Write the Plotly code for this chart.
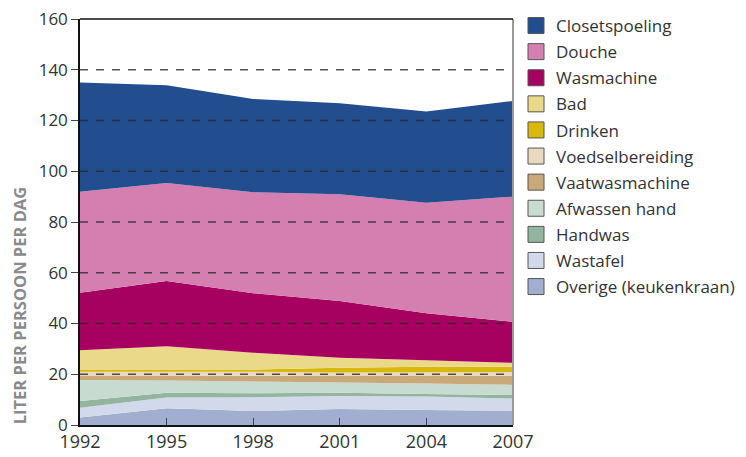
import plotly.graph_objects as go

years = [1992, 1995, 1998, 2001, 2004, 2007]

# values per category (liter per person per day), bottom to top of stack
overige = [3.0, 6.6, 5.5, 6.3, 5.9, 5.6]
wastafel = [3.8, 4.2, 5.4, 5.1, 5.3, 4.8]
handwas = [2.7, 1.9, 1.6, 1.3, 1.0, 1.4]
afwassen_hand = [8.2, 4.8, 4.6, 4.0, 4.2, 4.0]
vaatwasmachine = [1.6, 1.8, 2.3, 2.8, 3.1, 3.6]
voedselbereiding = [1.7, 1.7, 1.6, 1.2, 1.3, 1.5]
drinken = [0.9, 0.9, 0.9, 1.9, 2.2, 2.1]
bad = [7.6, 9.1, 6.6, 3.9, 2.5, 1.5]
wasmachine = [22.6, 25.7, 23.4, 22.4, 18.5, 16.2]
douche = [39.8, 38.7, 39.8, 42.0, 43.6, 49.3]
closetspoeling = [43.1, 38.5, 36.8, 35.9, 35.9, 37.7]

names = ["Overige (keukenkraan)", "Wastafel", "Handwas", "Afwassen hand",
         "Vaatwasmachine", "Voedselbereiding", "Drinken", "Bad",
         "Wasmachine", "Douche", "Closetspoeling"]
series = [overige, wastafel, handwas, afwassen_hand, vaatwasmachine,
          voedselbereiding, drinken, bad, wasmachine, douche, closetspoeling]
colors = ["#A1AED0", "#D2D9EA", "#93B5A0", "#C8DBD0", "#C9A97A",
          "#EAD9BF", "#D9B80E", "#EBD98A", "#A60061", "#D47FB0", "#224D8F"]

y_ticks = [0, 20, 40, 60, 80, 100, 120, 140, 160]
grid_vals = [20, 40, 60, 80, 100, 120, 140]

# the page body adds an 8px margin, so the figure is sized to fit the window
W, H = 738, 449

fig = go.Figure()
for n, s, c in zip(names, series, colors):
    fig.add_trace(go.Scatter(x=years, y=s, stackgroup="one", mode="none",
                             fillcolor=c, line=dict(width=0), name=n,
                             showlegend=False, hoverinfo="skip"))

# legend entries (top to bottom)
for n, c in zip(names[::-1], colors[::-1]):
    fig.add_trace(go.Scatter(x=[None], y=[None], mode="markers", name=n,
                             legendgroup=n,
                             marker=dict(symbol="square", size=16, color=c,
                                         line=dict(color="#555555", width=1))))

shapes = []
for g in grid_vals:
    shapes.append(dict(type="line", xref="paper", yref="y", x0=0, x1=1, y0=g, y1=g,
                       line=dict(color="rgba(40,40,40,0.8)", width=1.5, dash="8px,8px"),
                       layer="above"))
shapes.append(dict(type="line", xref="paper", yref="paper", x0=1, x1=1, y0=0, y1=1,
                   line=dict(color="#999999", width=2), layer="above"))
shapes.append(dict(type="line", xref="paper", yref="paper", x0=0, x1=1, y0=1, y1=1,
                   line=dict(color="#111111", width=1.5), layer="above"))

fig.update_layout(
    width=W, height=H,
    margin=dict(l=72, r=233, t=11, b=32, autoexpand=False),
    paper_bgcolor="white", plot_bgcolor="white",
    font=dict(family="Open Sans", size=16, color="#333333"),
    showlegend=True,
    legend=dict(xref="container", yref="container",
                x=508 / W, xanchor="left", y=1 - 0 / H, yanchor="top",
                traceorder="grouped", tracegroupgap=1, maxheight=1,
                font=dict(size=17, color="#333333"), bgcolor="rgba(0,0,0,0)"),
    xaxis=dict(range=[1992, 2007], tickvals=years, ticks="inside", ticklen=7,
               tickcolor="#444", showline=True, linecolor="#111", linewidth=1.5,
               mirror=False, showgrid=False, zeroline=False, automargin=False,
               ticklabeloverflow="allow",
               tickfont=dict(size=18, color="#333")),
    yaxis=dict(range=[0, 160], tickvals=y_ticks, ticks="outside", ticklen=7,
               tickcolor="#444", showline=True, linecolor="#111", linewidth=1.5,
               showgrid=False, zeroline=False, automargin=False,
               ticklabeloverflow="allow",
               tickfont=dict(size=17, color="#333")),
    shapes=shapes,
    annotations=[dict(text="<b>LITER PER PERSOON PER DAG</b>", textangle=-90,
                      xref="paper", yref="y", x=0, y=47, xanchor="right",
                      yanchor="middle", xshift=-47, showarrow=False,
                      font=dict(size=16.5, color="#8a8a8a"))],
)

fig.write_html("out.html")
